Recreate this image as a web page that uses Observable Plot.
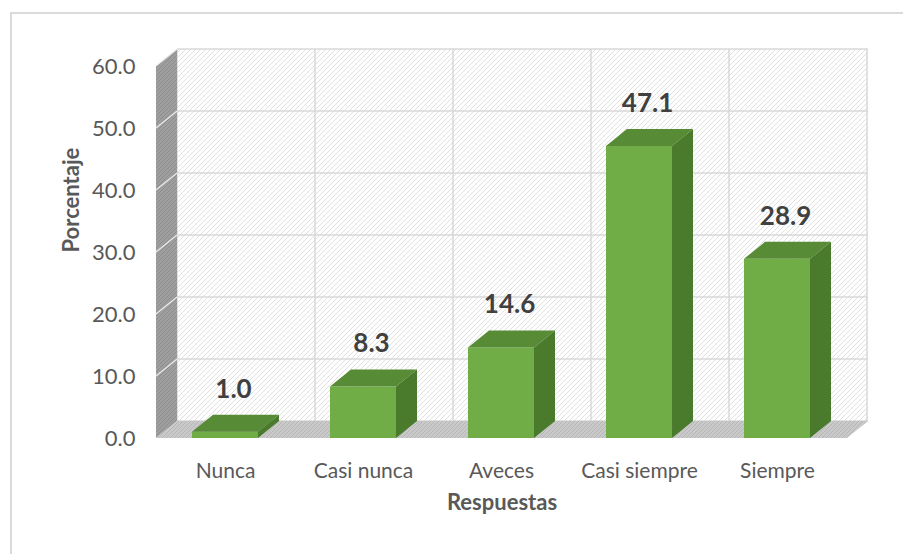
<!DOCTYPE html>
<html>
<head>
<meta charset="utf-8">
<script src="https://cdn.jsdelivr.net/npm/d3@7"></script>
<script src="https://cdn.jsdelivr.net/npm/@observablehq/plot@0.6"></script>
<style>
  html, body { margin: 0; padding: 0; background: #ffffff; overflow: hidden; }
  #card { position: absolute; left: 10px; top: 12px; width: 1000px; height: 1000px;
          border: 2px solid #dadada; box-sizing: border-box; }
  #chart { position: absolute; left: 0; top: 0; }
  #chart g[aria-label="y-axis tick label"] { font-size: 22px; }
</style>
</head>
<body>
<div id="card"></div>
<div id="chart"></div>
<script>
// Survey answers and their share of respondents (%)
const categories = ["Nunca", "Casi nunca", "Aveces", "Casi siempre", "Siempre"];
const percentages = [1.0, 8.3, 14.6, 47.1, 28.9];
const yTicks = [0, 10, 20, 30, 40, 50, 60];
const xTitle = "Respuestas";
const yTitle = "Porcentaje";

const data = categories.map((category, i) => ({category, value: percentages[i]}));

// Oblique projection used for the depth of the 3-D box and columns
const DX = 21, DY = -17;
const FONT = "Lato, 'Open Sans', sans-serif";
const FRONT = "#70ad47", TOP = "#578b36", SIDE = "#4a7a2b";

const NS = "http://www.w3.org/2000/svg";
function svgEl(tag, attrs = {}) {
  const e = document.createElementNS(NS, tag);
  for (const [k, v] of Object.entries(attrs)) e.setAttribute(k, v);
  return e;
}
function polygon(pts, fill) {
  return svgEl("polygon", {points: pts.map(p => p.join(",")).join(" "), fill});
}
function band(x) {
  const bw = typeof x.bandwidth === "function" ? x.bandwidth() : x.bandwidth;
  const step = typeof x.step === "function" ? x.step() : x.step;
  return {bw, step, gap: (step - bw) / 2};
}
function hatch(id, bg, line, size) {
  const p = svgEl("pattern", {id, width: size, height: size, patternUnits: "userSpaceOnUse"});
  p.append(svgEl("rect", {width: size, height: size, fill: bg}));
  p.append(svgEl("path", {
    d: `M0,${size}L${size},0M${-size / 2},${size / 2}L${size / 2},${-size / 2}M${size / 2},${size * 1.5}L${size * 1.5},${size / 2}`,
    stroke: line, "stroke-width": 1
  }));
  return p;
}

// Back wall, left wall and floor of the 3-D box, with gridlines
function box(index, scales, values, dims) {
  const x = scales.x, y = scales.y;
  const {bw, gap} = band(x);
  const left = dims.marginLeft, right = dims.width - dims.marginRight;
  const floorY = y(0), topY = y(d3.max(yTicks));
  const g = svgEl("g");
  const defs = svgEl("defs");
  defs.append(
    hatch("wallHatch", "#ffffff", "#e0e0e0", 5),
    hatch("sideHatch", "#9e9e9e", "#8e8e8e", 4),
    hatch("floorHatch", "#c9c9c9", "#b6b6b6", 4)
  );
  g.append(defs);
  g.append(polygon([[left + DX, topY + DY], [right + DX, topY + DY], [right + DX, floorY + DY], [left + DX, floorY + DY]], "url(#wallHatch)"));
  for (const t of yTicks) {
    g.append(svgEl("line", {x1: left + DX, x2: right + DX, y1: y(t) + DY, y2: y(t) + DY, stroke: "#d9d9d9", "stroke-width": 1.5}));
  }
  const edges = categories.map(c => x(c) - gap);
  edges.push(x(categories[categories.length - 1]) + bw + gap);
  for (const e of edges) {
    g.append(svgEl("line", {x1: e + DX, x2: e + DX, y1: topY + DY, y2: floorY + DY, stroke: "#d9d9d9", "stroke-width": 1.5}));
  }
  g.append(polygon([[left, floorY], [left, topY], [left + DX, topY + DY], [left + DX, floorY + DY]], "url(#sideHatch)"));
  for (const t of yTicks.slice(1)) {
    g.append(svgEl("line", {x1: left, x2: left + DX, y1: y(t), y2: y(t) + DY, stroke: "#ececec", "stroke-width": 1.2}));
  }
  g.append(polygon([[left, floorY], [right, floorY], [right + DX, floorY + DY], [left + DX, floorY + DY]], "url(#floorHatch)"));
  return g;
}

// Top and side faces of each column
function columnFaces(index, scales) {
  const x = scales.x, y = scales.y;
  const {bw} = band(x);
  const g = svgEl("g");
  categories.forEach((c, i) => {
    const x0 = x(c), x1 = x0 + bw, y0 = y(0), y1 = y(percentages[i]);
    g.append(polygon([[x0, y1], [x1, y1], [x1 + DX, y1 + DY], [x0 + DX, y1 + DY]], TOP));
    g.append(polygon([[x1, y1], [x1 + DX, y1 + DY], [x1 + DX, y0 + DY], [x1, y0]], SIDE));
  });
  return g;
}

const chart = Plot.plot({
  width: 903,
  height: 554,
  marginLeft: 156,
  marginRight: 56,
  marginTop: 66,
  marginBottom: 116,
  style: {fontFamily: FONT, fontSize: "21px", color: "#595959", background: "transparent", overflow: "visible"},
  x: {domain: categories, paddingInner: 0.52, paddingOuter: 0.26, tickSize: 0, tickPadding: 25, label: null},
  y: {domain: [0, 60], ticks: yTicks, tickFormat: d => d.toFixed(1), tickSize: 0, tickPadding: 21, label: null},
  marks: [
    box,
    Plot.barY(data, {x: "category", y: "value", fill: FRONT}),
    columnFaces,
    Plot.text(data, {x: "category", y: "value", text: d => d.value.toFixed(1), dx: 8, dy: -43,
      fontSize: 26, fontWeight: "bold", fill: "#404040"}),
    Plot.text([xTitle], {frameAnchor: "bottom", dy: 71, fontSize: 22, fontWeight: "bold", fill: "#595959"}),
    Plot.text([yTitle], {frameAnchor: "left", dx: -85, rotate: -90, fontSize: 22, fontWeight: "bold", fill: "#595959"})
  ]
});

document.getElementById("chart").append(chart);
</script>
</body>
</html>
